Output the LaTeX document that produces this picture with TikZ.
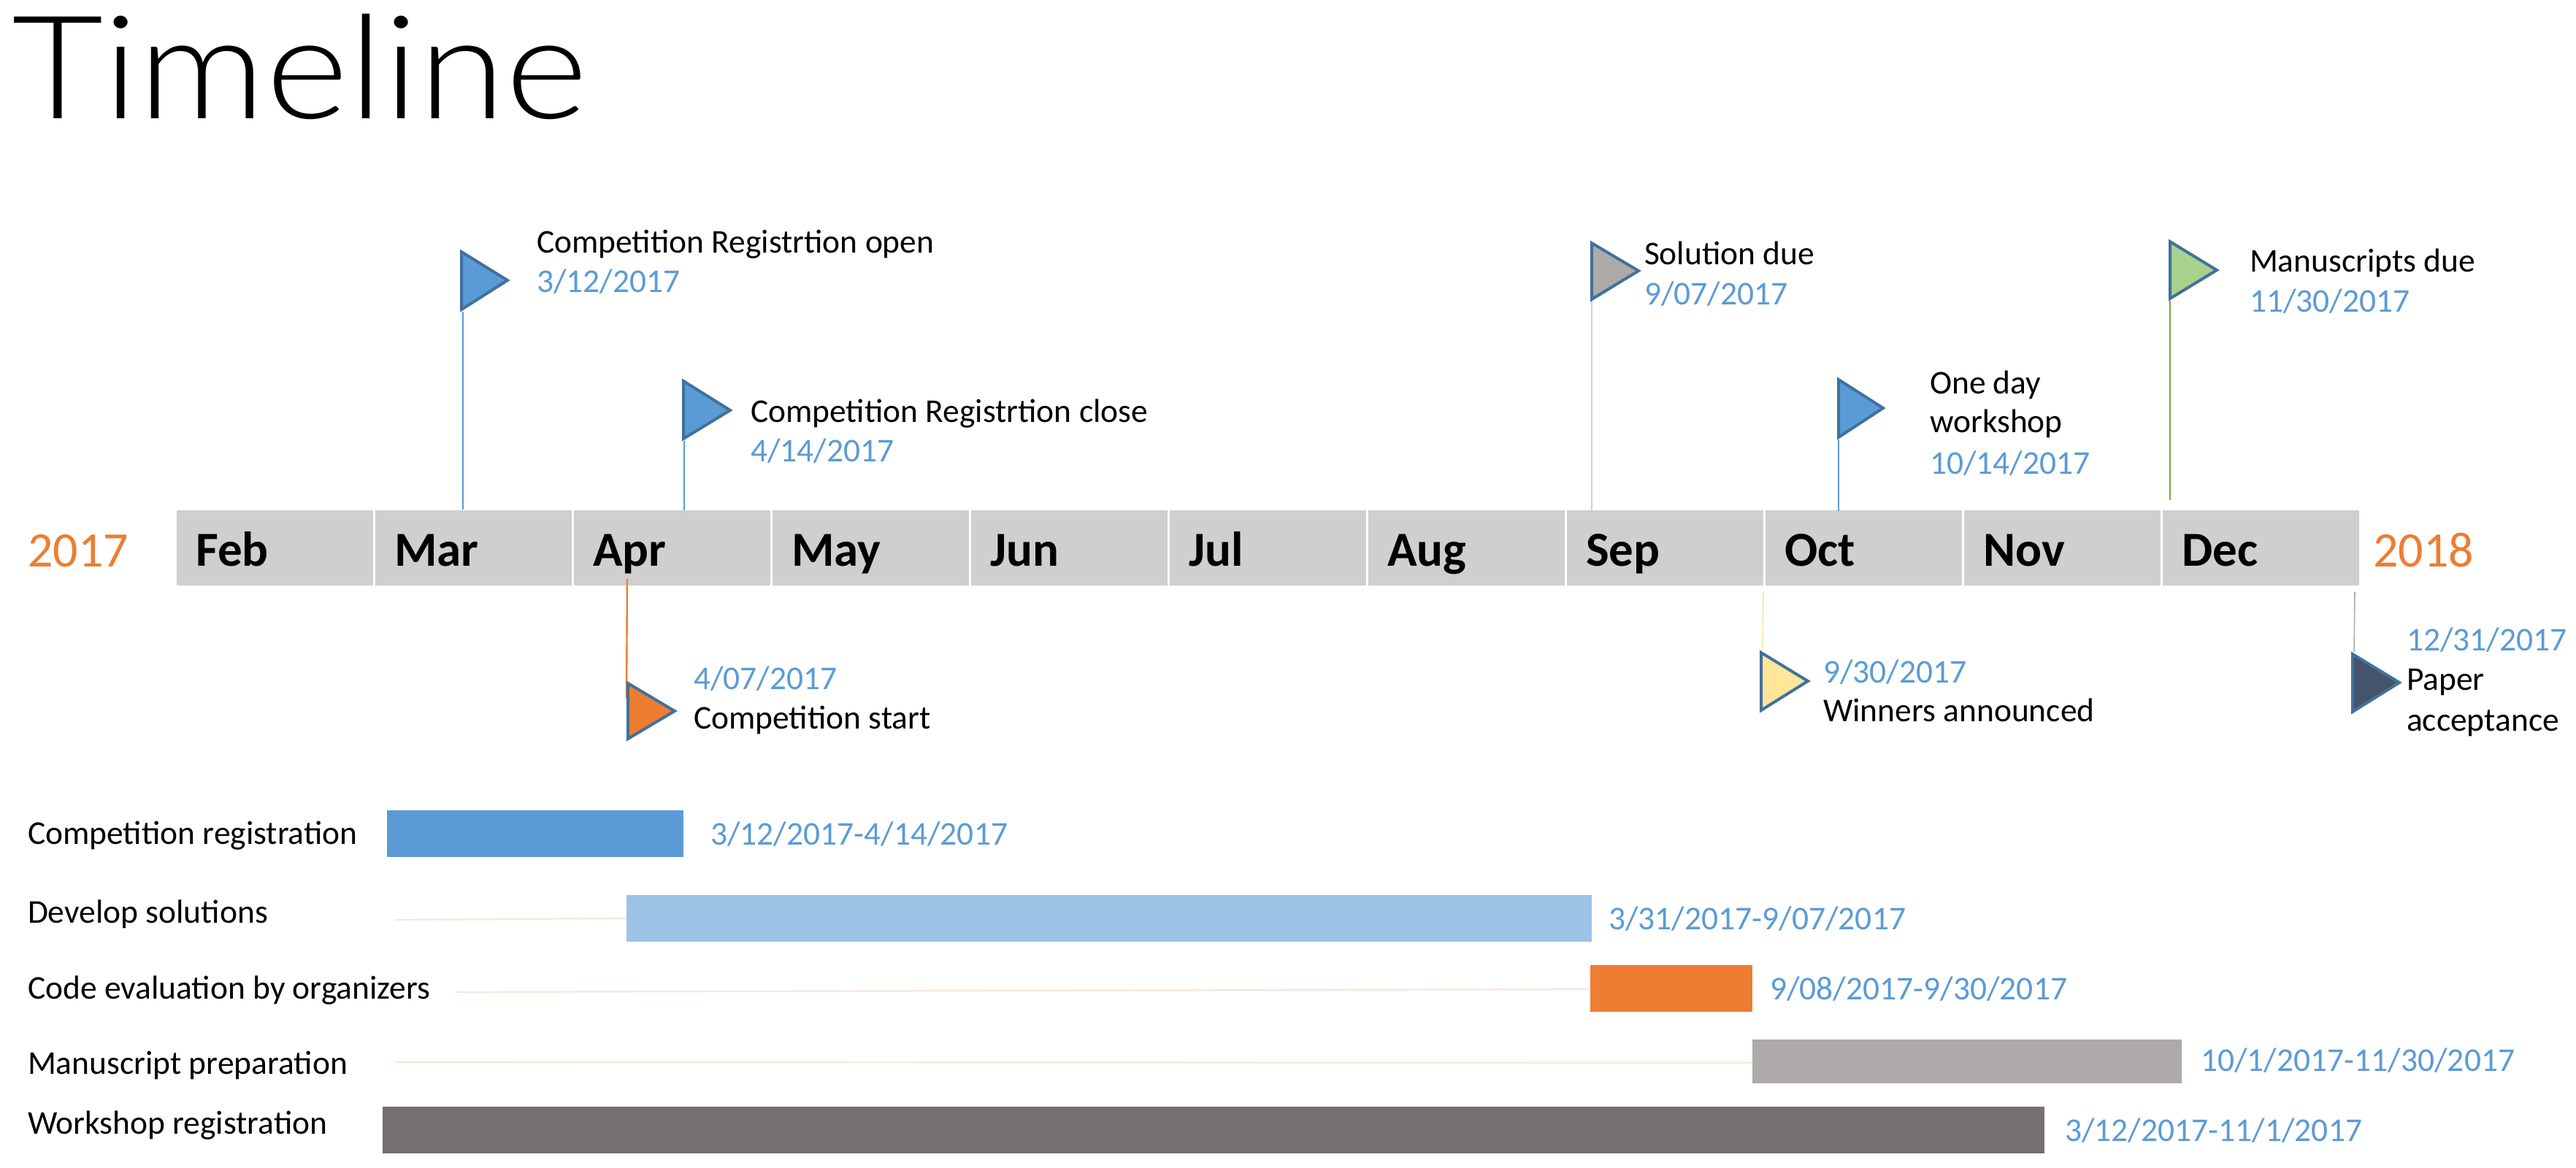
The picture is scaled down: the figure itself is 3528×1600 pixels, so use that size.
\documentclass[tikz,border=0pt]{standalone}
\usepackage{fontspec}
\setmainfont{Carlito}
\newfontfamily\headingfont[FakeStretch=1.1]{Lato Light}
\definecolor{cBlue}{HTML}{5B9BD5}
\definecolor{cEdge}{HTML}{41719C}
\definecolor{cPale}{HTML}{9DC3E6}
\definecolor{cOrange}{HTML}{ED7D31}
\definecolor{cGrey}{HTML}{AEAAAA}
\definecolor{cDark}{HTML}{767171}
\definecolor{cBand}{HTML}{D0CECE}
\definecolor{cYellow}{HTML}{FFE699}
\definecolor{cGreen}{HTML}{A9D18E}
\definecolor{cGreenLine}{HTML}{70AD47}
\definecolor{cNavy}{HTML}{44546A}
\definecolor{cThread}{HTML}{FBE5D6}
\tikzset{
  label/.style={anchor=base west,inner sep=0pt,outer sep=0pt,font=\fontsize{45.5}{53}\selectfont,text=black,align=left},
  datelabel/.style={label,text=cBlue},
  yearlabel/.style={anchor=base west,inner sep=0pt,font=\fontsize{68}{80}\selectfont,text=cOrange},
  month/.style={anchor=north west,inner sep=0pt,outer sep=0pt,minimum width=269pt,minimum height=103pt,fill=cBand},
  monthname/.style={anchor=base west,inner sep=0pt,font=\fontsize{67}{78}\selectfont\bfseries},
  pennant/.style={draw=cEdge,line width=4pt,line join=miter},
  pole/.style={line width=1.6pt},
  spanbar/.style={anchor=north west,inner sep=0pt,outer sep=0pt},
  thread/.style={draw=cThread,line width=2.2pt},
}
% \pennant{name}{left x}{top y}{bottom y}{tip x}{tip y}{fill}
\newcommand{\pennant}[7]{%
  \coordinate (#1-top) at (#2,#3);
  \coordinate (#1-bot) at (#2,#4);
  \coordinate (#1-tip) at (#5,#6);
  \path[pennant,fill=#7] (#1-top) -- (#1-tip) -- (#1-bot) -- cycle;
}
% \spanbar{name}{left}{top}{right}{bottom}{fill}
\newcommand{\spanbar}[6]{%
  \node[spanbar,fill=#6,minimum width={(#4)-(#2)},minimum height={(#5)-(#3)}] (#1) at (#2,#3) {};
}
\begin{document}
\begin{tikzpicture}[x=1pt,y=-1pt]
\useasboundingbox (0,0) rectangle (3528,1600);
\fill[white] (0,0) rectangle (3528,1600);

% heading
\node[anchor=base west,inner sep=0pt,font=\fontsize{197}{240}\headingfont] (title) at (16,163) {Timeline};

% month band
\foreach \mname/\mtext [count=\i from 0] in {feb/Feb,mar/Mar,apr/Apr,may/May,jun/Jun,jul/Jul,aug/Aug,sep/Sep,oct/Oct,nov/Nov,dec/Dec}{
  \node[month] (\mname) at ({242+272*\i},699) {};
  \node[monthname] (\mname-name) at ({268+272*\i},775) {\mtext};
}
\node[yearlabel] (y2017) at (38,776) {2017};
\node[yearlabel] (y2018) at (3250,776) {2018};

% poles, drawn first so the pennants sit over them
\coordinate (p1a) at (634,427); \coordinate (p1b) at (634,698);
\coordinate (p2a) at (937,604); \coordinate (p2b) at (937,699);
\coordinate (p3a) at (2180,412); \coordinate (p3b) at (2180,700);
\coordinate (p4a) at (2518,602); \coordinate (p4b) at (2518,700);
\coordinate (p5a) at (2972,412); \coordinate (p5b) at (2972,685);
\coordinate (p6a) at (859,793); \coordinate (p6b) at (858,957);
\coordinate (p7a) at (2415,811); \coordinate (p7b) at (2414,891);
\coordinate (p8a) at (3225,811); \coordinate (p8b) at (3224,893);
\draw[pole,draw=cBlue] (p1a) -- (p1b);
\draw[pole,draw=cBlue] (p2a) -- (p2b);
\draw[pole,draw=cBand] (p3a) -- (p3b);
\draw[pole,draw=cBlue] (p4a) -- (p4b);
\draw[pole,draw=cGreenLine,line width=2.2pt] (p5a) -- (p5b);
\draw[pole,draw=cOrange,line width=2.4pt] (p6a) -- (p6b);
\draw[pole,draw=cYellow] (p7a) -- (p7b);
\draw[pole,draw=cGrey] (p8a) -- (p8b);

% milestone pennants
\pennant{open}{632}{345}{424}{695}{384}{cBlue}
\pennant{close}{936}{522}{601}{1000}{562}{cBlue}
\pennant{due}{2180}{333}{410}{2244}{371}{cGrey}
\pennant{work}{2518}{520}{599}{2579}{559}{cBlue}
\pennant{manu}{2972}{331}{409}{3036}{370}{cGreen}
\pennant{start}{860}{936}{1012}{924}{974}{cOrange}
\pennant{win}{2412}{894}{973}{2476}{933}{cYellow}
\pennant{paper}{3222}{896}{975}{3286}{935}{cNavy}

% milestone captions
\node[label] (t1) at (735,346) {Competition Registrtion open};
\node[datelabel] (d1) at (735,400) {3/12/2017};
\node[label] (t2) at (1028,578) {Competition Registrtion close};
\node[datelabel] (d2) at (1028,632) {4/14/2017};
\node[label] (t3) at (2252,362) {Solution due};
\node[datelabel] (d3) at (2252,417) {9/07/2017};
\node[label] (t4a) at (2643,539) {One day};
\node[label] (t4b) at (2643,592) {workshop};
\node[datelabel] (d4) at (2643,649) {10/14/2017};
\node[label] (t5) at (3081,372) {Manuscripts due};
\node[datelabel] (d5) at (3081,427) {11/30/2017};
\node[datelabel] (d6) at (950,944) {4/07/2017};
\node[label] (t6) at (950,998) {Competition start};
\node[datelabel] (d7) at (2497,935) {9/30/2017};
\node[label] (t7) at (2497,988) {Winners announced};
\node[datelabel] (d8) at (3296,891) {12/31/2017};
\node[label] (t8a) at (3296,945) {Paper};
\node[label] (t8b) at (3296,1001) {acceptance};

% schedule bars
\spanbar{regbar}{530}{1110}{936}{1174}{cBlue}
\spanbar{devbar}{858}{1226}{2180}{1290}{cPale}
\spanbar{codebar}{2178}{1322}{2400}{1386}{cOrange}
\spanbar{msbar}{2400}{1424}{2988}{1484}{cGrey}
\spanbar{wsbar}{524}{1516}{2800}{1580}{cDark}

% faint leaders running into the bars
\coordinate (l1) at (541,1260);
\coordinate (l2) at (624,1359);
\coordinate (l3) at (541,1455);
\draw[thread] (l1) -- (devbar.west |- 0,1258);
\draw[thread] (l2) -- (codebar.west |- 0,1355);
\draw[thread] (l3) -- (msbar.west |- 0,1456);

% schedule captions
\node[label] (r1) at (38,1156) {Competition registration};
\node[label] (r2) at (38,1264) {Develop solutions};
\node[label] (r3) at (38,1368) {Code evaluation by organizers};
\node[label] (r4) at (38,1471) {Manuscript preparation};
\node[label] (r5) at (38,1553) {Workshop registration};
\node[datelabel] (s1) at (973,1157) {3/12/2017-4/14/2017};
\node[datelabel] (s2) at (2203,1273) {3/31/2017-9/07/2017};
\node[datelabel] (s3) at (2424,1369) {9/08/2017-9/30/2017};
\node[datelabel] (s4) at (3014,1467) {10/1/2017-11/30/2017};
\node[datelabel] (s5) at (2828,1563) {3/12/2017-11/1/2017};
\end{tikzpicture}
\end{document}
